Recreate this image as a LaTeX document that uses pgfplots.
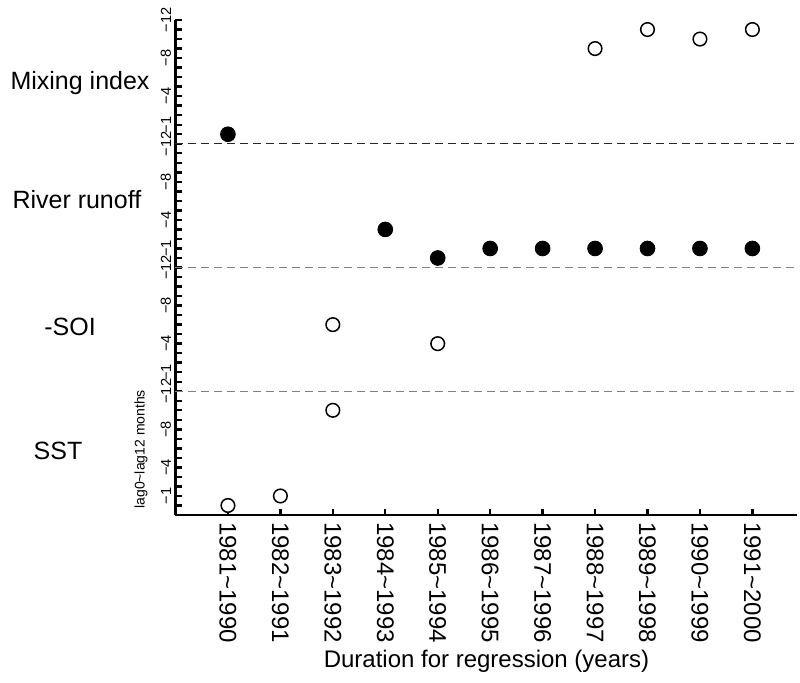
\documentclass[border=0pt]{standalone}
\usepackage{fontspec}
\setmainfont{Liberation Sans}
\usepackage{pgfplots}
\usepackage{pgfplotstable}
\pgfplotsset{compat=1.18}

% x = regression window (1 = 1981~1990), panel: 0 SST, 1 -SOI, 2 River runoff, 3 Mixing index
\pgfplotstableread{
x panel lag
1 3 0
4 2 3
5 2 0
6 2 1
7 2 1
8 2 1
9 2 1
10 2 1
11 2 1
}\filled

\pgfplotstableread{
x panel lag
8 3 9
9 3 11
10 3 10
11 3 11
3 1 6
5 1 4
1 0 0
2 0 1
3 0 10
}\hollow

\begin{document}
\begin{tikzpicture}
\begin{axis}[name=ax, scale only axis, width=311pt, height=247.5pt,
  xmin=0, xmax=11.86, ymin=0, ymax=52,
  axis x line*=bottom, axis y line*=left,
  axis line style={line width=1.3pt},
  tick style={black, line width=1.2pt},
  tick align=inside,
  major tick length=3pt, minor tick length=3pt,
  xtick={1,...,11},
  xticklabels={1981\textasciitilde1990,1982\textasciitilde1991,1983\textasciitilde1992,1984\textasciitilde1993,
    1985\textasciitilde1994,1986\textasciitilde1995,1987\textasciitilde1996,1988\textasciitilde1997,
    1989\textasciitilde1998,1990\textasciitilde1999,1991\textasciitilde2000},
  xticklabel style={rotate=-90, anchor=west, font=\fontsize{12}{14}\selectfont},
  ytick={2,5,9,13,15,18,22,26,28,31,35,39,41,44,48,52},
  yticklabels={−1,−4,−8,−12,−1,−4,−8,−12,−1,−4,−8,−12,−1,−4,−8,−12},
  minor ytick={1,...,52},
  yticklabel style={rotate=90, anchor=south, inner sep=2pt, font=\fontsize{7.3}{8}\selectfont},
  xlabel={Duration for regression (years)},
  xlabel style={font=\fontsize{12}{14}\selectfont, yshift=3pt},
  clip=false]

% month ticks on the lag axis and category ticks on the x axis
\addplot[xcomb, black, line width=1.2pt, mark=none] coordinates {
  (0.115,1) (0.115,2) (0.115,3) (0.115,4) (0.115,5) (0.115,6) (0.115,7) (0.115,8) (0.115,9) (0.115,10)
  (0.115,11) (0.115,12) (0.115,13) (0.115,14) (0.115,15) (0.115,16) (0.115,17) (0.115,18) (0.115,19) (0.115,20)
  (0.115,21) (0.115,22) (0.115,23) (0.115,24) (0.115,25) (0.115,26) (0.115,27) (0.115,28) (0.115,29) (0.115,30)
  (0.115,31) (0.115,32) (0.115,33) (0.115,34) (0.115,35) (0.115,36) (0.115,37) (0.115,38) (0.115,39) (0.115,40)
  (0.115,41) (0.115,42) (0.115,43) (0.115,44) (0.115,45) (0.115,46) (0.115,47) (0.115,48) (0.115,49) (0.115,50)
  (0.115,51) (0.115,52)};
\addplot[ycomb, black, line width=1pt, mark=none] coordinates {
  (1,0.63) (2,0.63) (3,0.63) (4,0.63) (5,0.63) (6,0.63) (7,0.63) (8,0.63) (9,0.63) (10,0.63) (11,0.63)};

\addplot[black!85, dashed, dash pattern=on 4pt off 2.5pt, line width=0.6pt] coordinates {(0,39) (11.86,39)};
\addplot[gray, dashed, dash pattern=on 4pt off 2.5pt, line width=0.6pt] coordinates {(0,26) (11.86,26)};
\addplot[gray, dashed, dash pattern=on 4pt off 2.5pt, line width=0.6pt] coordinates {(0,13) (11.86,13)};

\addplot[only marks, mark=*, mark size=3.7pt, black]
  table[x=x, y expr={13*\thisrow{panel}+\thisrow{lag}+1}] {\filled};
\addplot[only marks, mark=*, mark size=3.4pt, mark options={draw=black, fill=white, line width=0.75pt}]
  table[x=x, y expr={13*\thisrow{panel}+\thisrow{lag}+1}] {\hollow};

\node[font=\fontsize{12.5}{14}\selectfont] at (axis cs:-1.82,45.4) {Mixing index};
\node[font=\fontsize{12.5}{14}\selectfont] at (axis cs:-1.88,33.1) {River runoff};
\node[font=\fontsize{12.5}{14}\selectfont] at (axis cs:-2.01,19.75) {-SOI};
\node[font=\fontsize{12.5}{14}\selectfont] at (axis cs:-2.24,6.7) {SST};
\node[rotate=90, font=\fontsize{7}{8}\selectfont] at (axis cs:-0.66,6.9) {lag0\textasciitilde lag12 months};
\end{axis}
\path ([shift={(-87.75pt,-83.5pt)}]ax.south west) rectangle ([shift={(312.25pt,257.5pt)}]ax.south west);
\end{tikzpicture}
\end{document}
